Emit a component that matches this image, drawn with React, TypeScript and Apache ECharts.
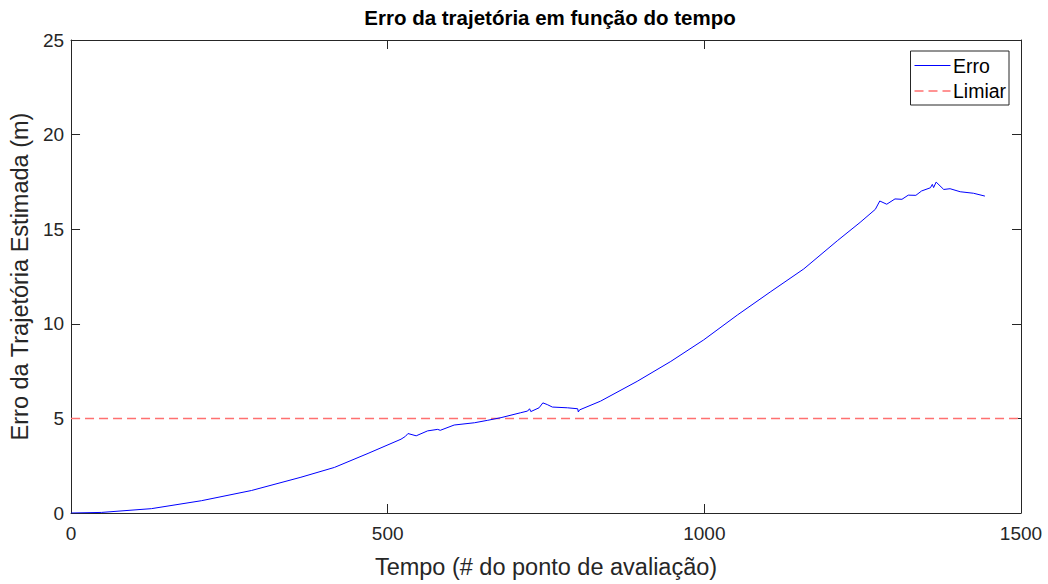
import React, { useEffect, useRef } from "react";
import * as echarts from "echarts";

const titleText = "Erro da trajetória em função do tempo";
const xAxisName = "Tempo (# do ponto de avaliação)";
const yAxisName = "Erro da Trajetória Estimada (m)";
const seriesNames = ["Erro", "Limiar"];

const errTime = [
  0, 48, 127, 206, 285, 363, 416, 469, 521, 528, 532, 545, 563, 579, 583, 605,
  637, 658, 679, 710, 721, 724, 726, 739, 745, 752, 760, 784, 800, 801, 803,
  836, 894, 947, 999, 1052, 1104, 1157, 1210, 1246, 1270, 1277, 1288, 1301,
  1312, 1322, 1334, 1343, 1357, 1360, 1362, 1366, 1378, 1388, 1404, 1425, 1443,
];
const errValue = [
  0, 0.03, 0.23, 0.65, 1.19, 1.89, 2.41, 3.15, 3.9, 4.05, 4.2, 4.08, 4.34,
  4.42, 4.37, 4.65, 4.77, 4.9, 5.04, 5.3, 5.39, 5.51, 5.36, 5.56, 5.82, 5.73,
  5.6, 5.56, 5.51, 5.34, 5.45, 5.91, 6.96, 8.01, 9.15, 10.46, 11.68, 12.9,
  14.39, 15.36, 16.05, 16.49, 16.32, 16.6, 16.58, 16.8, 16.79, 17.02, 17.19,
  17.37, 17.2, 17.49, 17.1, 17.14, 16.98, 16.9, 16.75,
];
const thresholdTime = [0, 1500];
const thresholdValue = [5, 5];

const xMin = 0, xMax = 1500, xStep = 500;
const yMin = 0, yMax = 25, yStep = 5;

const FONT = "Liberation Sans, Arial, Helvetica, sans-serif";
const AX = "#262626";
const BLUE = "#0000ff";
const RED = "#ff7070";

export default function App() {
  const ref = useRef<HTMLDivElement>(null);
  useEffect(() => {
    document.body.style.margin = "0";
    document.body.style.overflow = "hidden";
    const chart = echarts.init(ref.current!, null, { renderer: "svg" });
    const axisCommon = {
      type: "value" as const,
      axisLine: { show: true, onZero: false, lineStyle: { color: AX, width: 1 } },
      axisTick: { show: true, inside: true, length: 9, lineStyle: { color: AX } },
      splitLine: { show: false },
    };
    const lx = 910.5, ly = 51, lw = 98.5, lh = 54;
    chart.setOption({
      animation: false,
      backgroundColor: "#ffffff",
      textStyle: { fontFamily: FONT },
      title: {
        text: titleText,
        left: 545,
        textAlign: "center",
        top: 2,
        textStyle: { fontFamily: FONT, fontSize: 20.5, fontWeight: "bold", color: "#000" },
      },
      grid: { left: 69.5, right: 27, top: 40, bottom: 68, containLabel: false },
      xAxis: [
        {
          ...axisCommon,
          min: xMin,
          max: xMax,
          interval: xStep,
          position: "bottom",
          name: xAxisName,
          nameLocation: "middle",
          nameGap: 42,
          nameTextStyle: { fontFamily: FONT, fontSize: 23.5, color: AX },
          axisLabel: {
            fontFamily: FONT,
            fontSize: 19,
            color: AX,
            margin: 11,
            formatter: (v: number) => String(v),
          },
        },
        {
          ...axisCommon,
          min: xMin,
          max: xMax,
          interval: xStep,
          position: "top",
          axisLabel: { show: false },
        },
      ],
      yAxis: [
        {
          ...axisCommon,
          min: yMin,
          max: yMax,
          interval: yStep,
          position: "left",
          name: yAxisName,
          nameLocation: "middle",
          nameGap: 36,
          nameTextStyle: { fontFamily: FONT, fontSize: 23.5, color: AX },
          axisLabel: {
            fontFamily: FONT,
            fontSize: 19,
            color: AX,
            margin: 7,
            formatter: (v: number) => String(v),
          },
        },
        {
          ...axisCommon,
          min: yMin,
          max: yMax,
          interval: yStep,
          position: "right",
          axisLabel: { show: false },
        },
      ],
      graphic: [
        {
          type: "rect",
          shape: { x: lx, y: ly, width: lw, height: lh },
          style: { fill: "#fff", stroke: AX, lineWidth: 1 },
          z: 100,
        },
        {
          type: "line",
          shape: { x1: lx + 4, y1: ly + 14.5, x2: lx + 40, y2: ly + 14.5 },
          style: { stroke: BLUE, lineWidth: 1 },
          z: 101,
        },
        {
          type: "text",
          x: lx + 42.5,
          y: ly + 14.5,
          style: {
            text: seriesNames[0],
            font: `19.5px ${FONT}`,
            fill: "#000",
            verticalAlign: "middle",
          },
          z: 101,
        },
        {
          type: "line",
          shape: { x1: lx + 4, y1: ly + 40, x2: lx + 40, y2: ly + 40 },
          style: { stroke: RED, lineWidth: 1.5, lineDash: [9, 5] },
          z: 101,
        },
        {
          type: "text",
          x: lx + 42.5,
          y: ly + 40,
          style: {
            text: seriesNames[1],
            font: `19.5px ${FONT}`,
            fill: "#000",
            verticalAlign: "middle",
          },
          z: 101,
        },
      ],
      series: [
        {
          name: seriesNames[0],
          type: "line",
          data: errTime.map((t, i) => [t, errValue[i]]),
          symbol: "none",
          lineStyle: { color: BLUE, width: 1 },
          itemStyle: { color: BLUE },
          z: 3,
        },
        {
          name: seriesNames[1],
          type: "line",
          data: thresholdTime.map((t, i) => [t, thresholdValue[i]]),
          symbol: "none",
          lineStyle: { color: RED, width: 1.5, type: [9, 5] },
          itemStyle: { color: RED },
          z: 2,
        },
      ],
    });
    return () => chart.dispose();
  }, []);
  return (
    <div
      ref={ref}
      style={{ width: 1048, height: 584, overflow: "hidden", display: "block" }}
    />
  );
}
